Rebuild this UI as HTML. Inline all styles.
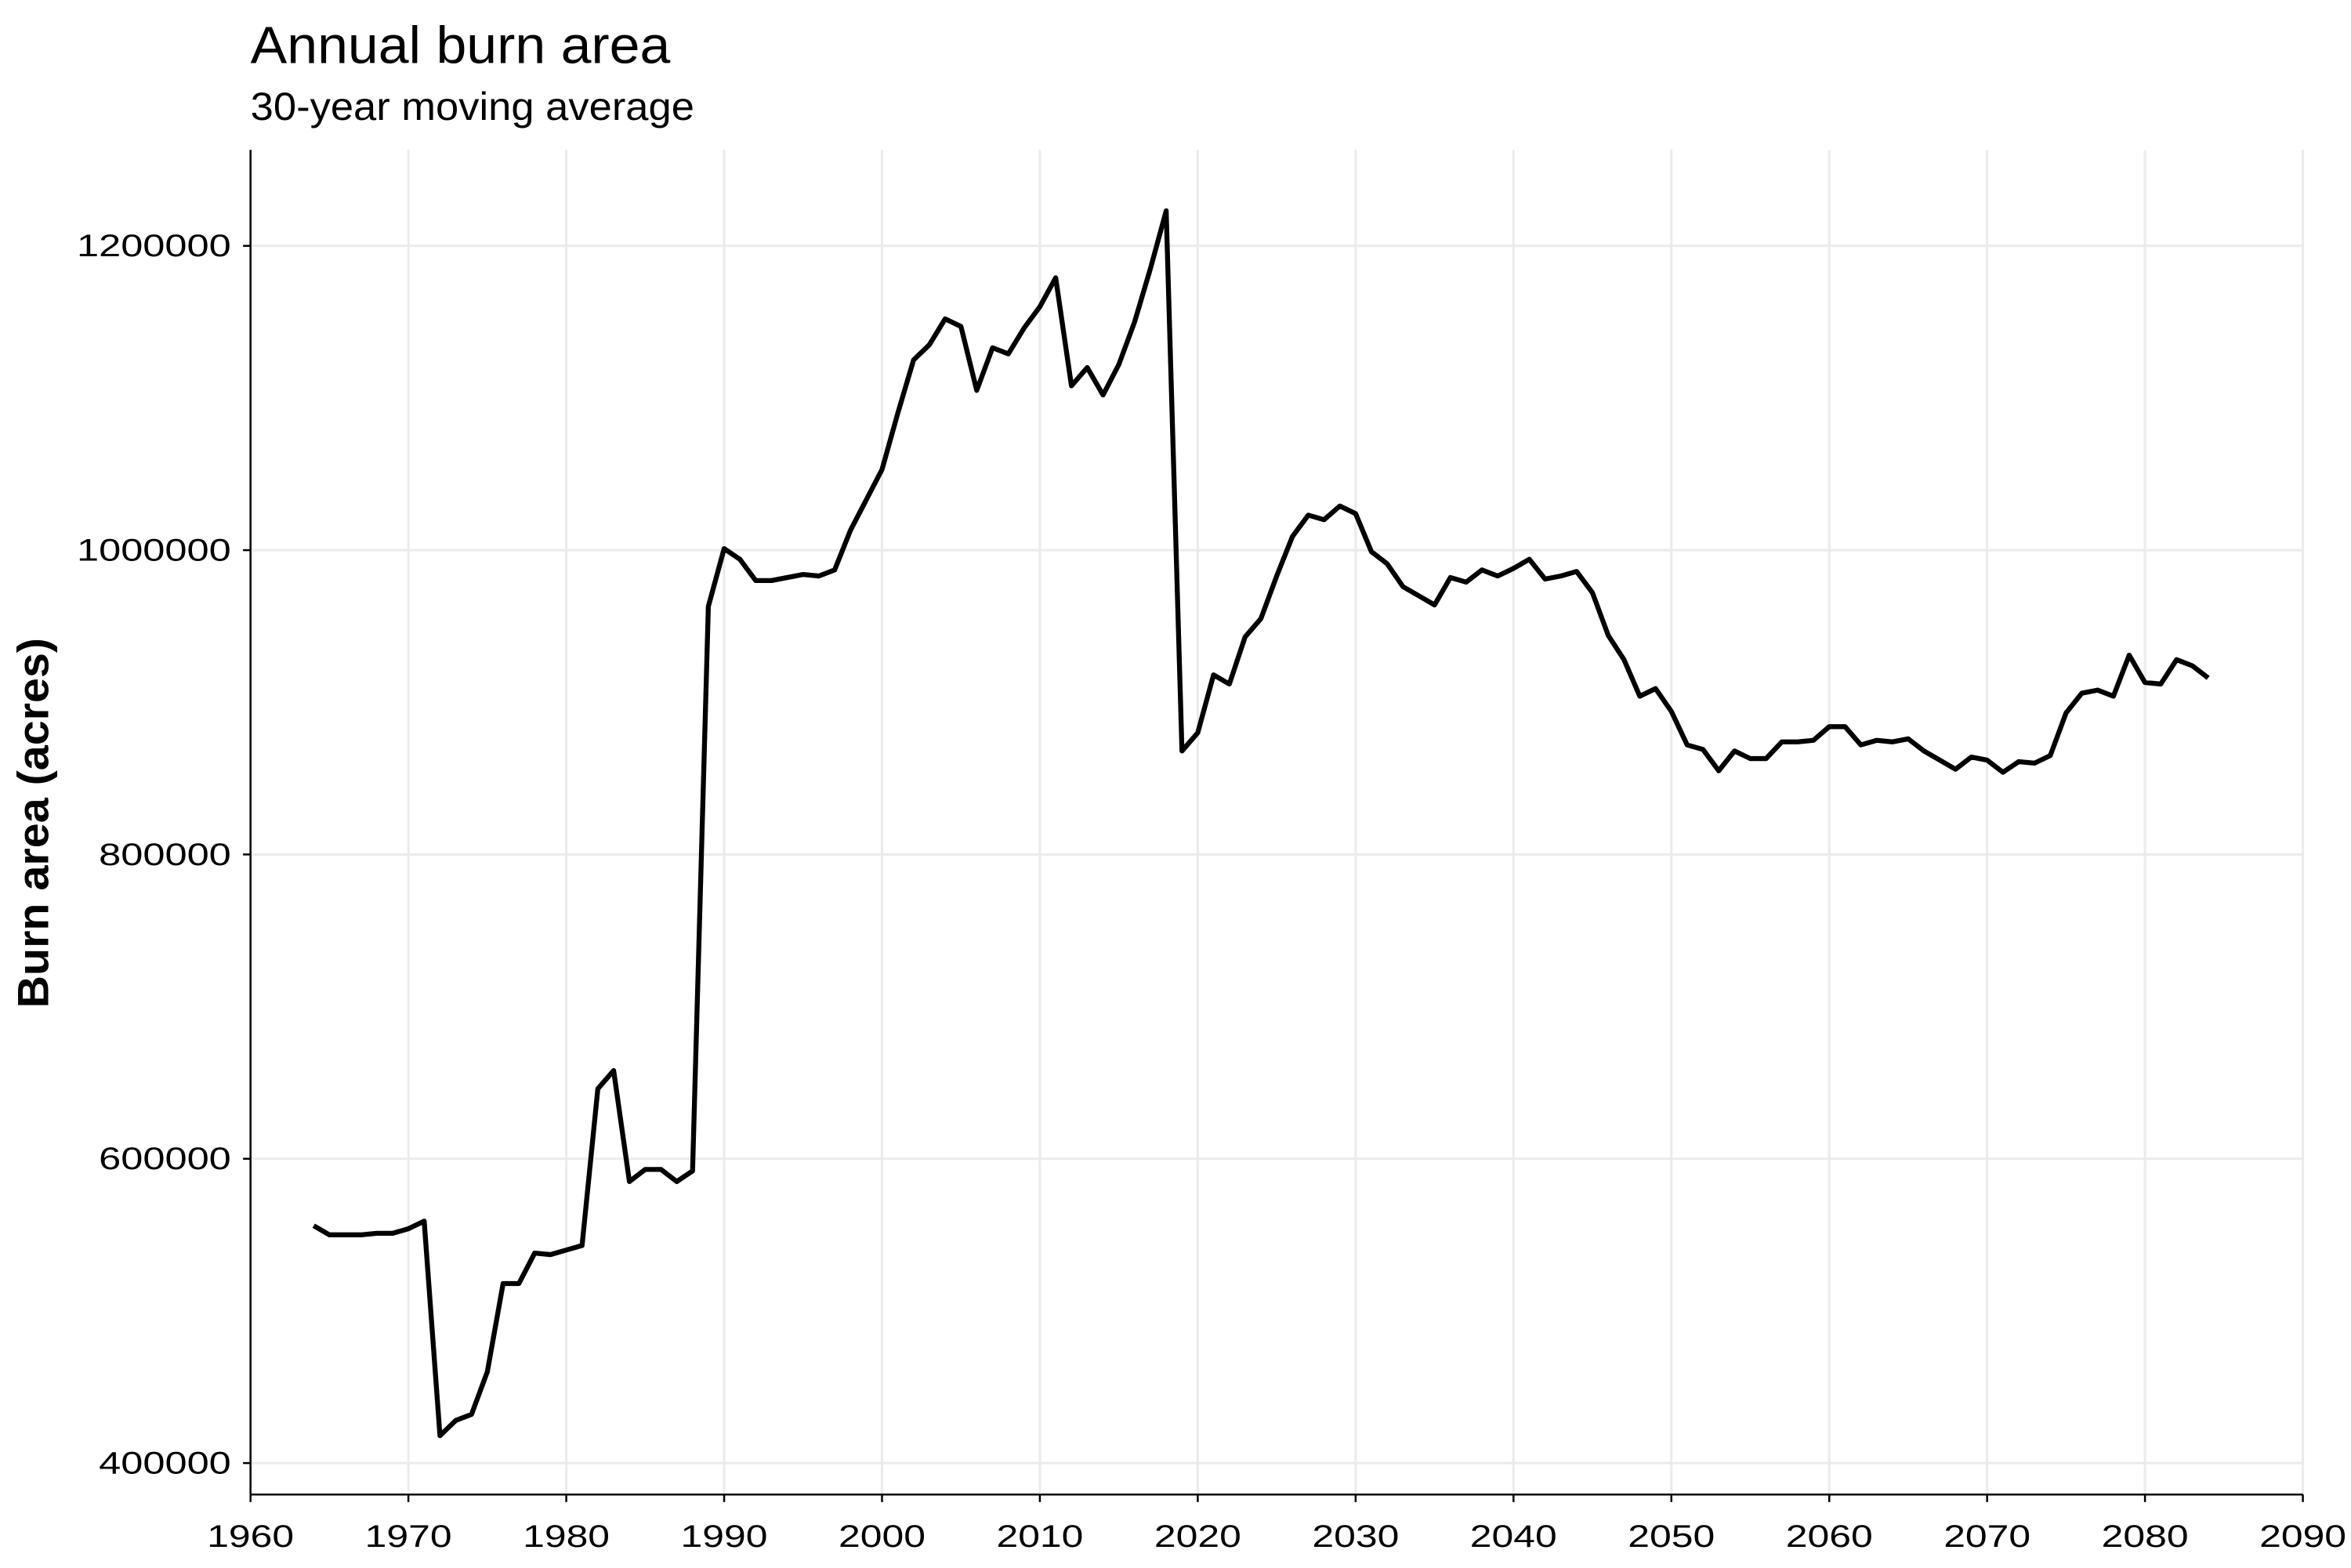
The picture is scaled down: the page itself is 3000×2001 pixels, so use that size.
<!DOCTYPE html>
<html><head><meta charset="utf-8"><style>
html,body{margin:0;padding:0;background:#fff;}
svg{display:block;font-family:"Liberation Sans",Arial,sans-serif;}
</style></head><body>
<svg id="chart" width="3000" height="2001" viewBox="0 0 1568 1046" xmlns="http://www.w3.org/2000/svg">
<text x="167" y="42" font-size="35" fill="#000" textLength="280" lengthAdjust="spacingAndGlyphs">Annual burn area</text>
<text x="167" y="80" font-size="26" fill="#000" textLength="296" lengthAdjust="spacingAndGlyphs">30-year moving average</text>
<text transform="translate(32,549) rotate(-90)" text-anchor="middle" font-size="29" font-weight="bold" fill="#000" textLength="247" lengthAdjust="spacingAndGlyphs">Burn area (acres)</text>
<g id="grid"></g><g id="axes"></g><g id="series"></g>
</svg>
<script>
const years = [1964,1965,1966,1967,1968,1969,1970,1971,1972,1973,1974,1975,1976,1977,1978,1979,1980,1981,1982,1983,1984,1985,1986,1987,1988,1989,1990,1991,1992,1993,1994,1995,1996,1997,1998,1999,2000,2001,2002,2003,2004,2005,2006,2007,2008,2009,2010,2011,2012,2013,2014,2015,2016,2017,2018,2019,2020,2021,2022,2023,2024,2025,2026,2027,2028,2029,2030,2031,2032,2033,2034,2035,2036,2037,2038,2039,2040,2041,2042,2043,2044,2045,2046,2047,2048,2049,2050,2051,2052,2053,2054,2055,2056,2057,2058,2059,2060,2061,2062,2063,2064,2065,2066,2067,2068,2069,2070,2071,2072,2073,2074,2075,2076,2077,2078,2079,2080,2081,2082,2083,2084];
const burnK = [556,550,550,550,551,551,554,559,418,428,432,460,518,518,538,537,540,543,646,658,585,593,593,585,592,963,1001,994,980,980,982,984,983,987,1013,1033,1053,1090,1125,1135,1152,1147,1105,1133,1129,1146,1160,1179,1108,1120,1102,1122,1150,1185,1223,868,880,918,912,943,955,983,1009,1023,1020,1029,1024,999,991,976,970,964,982,979,987,983,988,994,981,983,986,972,944,928,904,909,894,872,869,855,868,863,863,874,874,875,884,884,872,875,874,876,868,862,856,864,862,854,861,860,865,893,906,908,904,931,913,912,928,924,916];
const xTicks = [1960,1970,1980,1990,2000,2010,2020,2030,2040,2050,2060,2070,2080,2090];
const yTicks = [400000,600000,800000,1000000,1200000];

const NS="http://www.w3.org/2000/svg";
const L=167,R=1536,T=100,B=997;
const xs=v=>L+(v-1960)*(R-L)/130;
const ys=v=>976-(v-400000)*(976-164)/800000;
function mk(tag,attrs,parent){const e=document.createElementNS(NS,tag);for(const k in attrs)e.setAttribute(k,attrs[k]);parent.appendChild(e);return e;}
const grid=document.getElementById('grid'),axes=document.getElementById('axes'),series=document.getElementById('series');
xTicks.forEach(t=>{
  const g=mk('line',{x1:xs(t),x2:xs(t),y1:T,y2:B,stroke:'#ebebeb','stroke-width':1.6},grid);
  
  
  const tk=mk('line',{x1:xs(t),x2:xs(t),y1:B,y2:B+5,stroke:'#000','stroke-width':1.3},axes);
  
  
  const lb=mk('text',{x:xs(t),y:B+35,'text-anchor':'middle','font-size':21,fill:'#000',textLength:58,lengthAdjust:'spacingAndGlyphs'},axes);
  lb.textContent=t;
  
  
});
yTicks.forEach(t=>{
  const g=mk('line',{x1:L,x2:R,y1:ys(t),y2:ys(t),stroke:'#ebebeb','stroke-width':1.6},grid);
  
  
  const tk=mk('line',{x1:L-5,x2:L,y1:ys(t),y2:ys(t),stroke:'#000','stroke-width':1.3},axes);
  
  
  const n=String(t).length;
  const lb=mk('text',{x:L-13,y:ys(t)+7,'text-anchor':'end','font-size':21,fill:'#000',textLength:n*14.7,lengthAdjust:'spacingAndGlyphs'},axes);
  lb.textContent=t;
  
  
});
const xa=mk('line',{x1:L,x2:R,y1:B,y2:B,stroke:'#000','stroke-width':1.3},axes);


const ya=mk('line',{x1:L,x2:L,y1:T,y2:B,stroke:'#000','stroke-width':1.3},axes);


const pts=years.map((y,i)=>xs(y).toFixed(2)+','+ys(burnK[i]*1000).toFixed(2)).join(' ');
const pl=mk('polyline',{points:pts,fill:'none',stroke:'#000','stroke-width':3.3,'stroke-linejoin':'round'},series);


</script>
</body></html>
